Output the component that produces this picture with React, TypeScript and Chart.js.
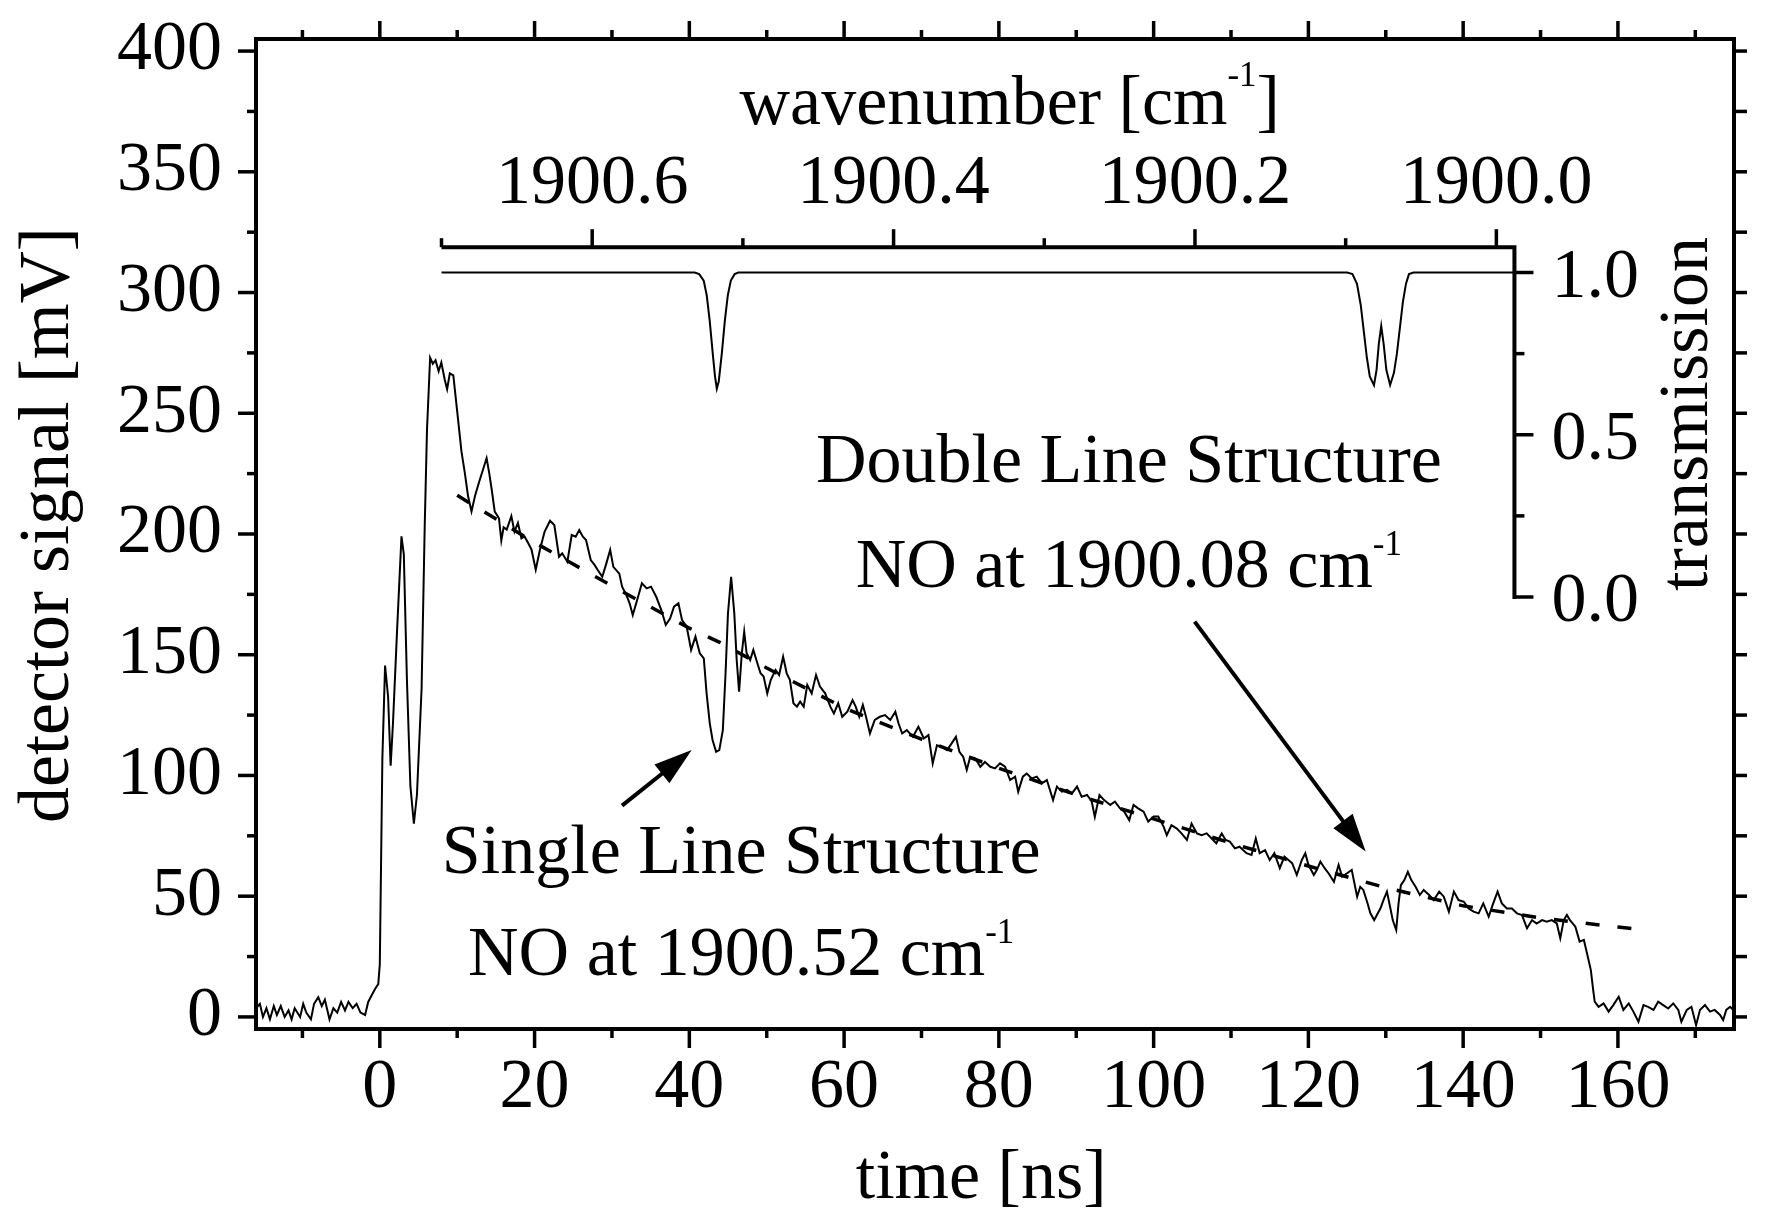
import { useEffect, useRef } from "react";
import { Chart, registerables } from "chart.js";

Chart.register(...registerables);

const FONT = "'Liberation Serif', 'Times New Roman', serif";

// detector signal: [time ns, signal mV]
const signalPoints: [number, number][] = [
  [-16.0, 3.6], [-15.5, 5.4], [-15.1, 0.0], [-14.65, 3.6], [-14.2, -1.0], [-13.7, 4.5], [-13.3, 0.8], [-12.8, 4.5],
  [-12.3, 0.0], [-11.8, 2.7], [-11.4, -1.0], [-11.0, 3.6], [-10.3, 0.0], [-9.9, 5.4], [-9.5, 1.8], [-8.9, -1.0],
  [-8.5, 5.4], [-7.95, 8.2], [-7.5, 4.5], [-7.1, 7.1], [-6.5, -1.0], [-6.0, 3.6], [-5.5, 1.8], [-5.0, 6.2],
  [-4.5, 2.7], [-4.05, 6.2], [-3.5, 3.6], [-3.0, 5.4], [-2.5, 1.8], [-1.9, 0.8], [-1.5, 6.2], [-1.05, 9.0],
  [-0.6, 11.7], [-0.2, 13.6], [0.0, 21.8], [0.33, 106.8], [0.68, 145.5], [1.07, 132.6], [1.4, 104.0], [1.7, 121.5],
  [2.23, 160.0], [2.8, 199.0], [3.1, 191.7], [3.5, 140.0], [3.95, 95.7], [4.4, 80.0], [4.8, 92.0], [5.4, 136.0],
  [5.8, 202.8], [6.1, 243.4], [6.5, 273.0], [6.85, 270.5], [7.2, 272.0], [7.6, 267.4], [7.95, 271.0], [8.4, 263.8],
  [8.7, 260.0], [9.05, 266.5], [9.5, 265.7], [10.0, 250.8], [10.55, 234.2], [11.0, 225.0], [11.4, 215.7], [11.85, 209.3],
  [12.3, 215.7], [12.8, 221.2], [13.35, 226.8], [13.8, 231.4], [14.15, 225.0], [14.5, 217.5], [14.85, 209.3], [15.4, 206.5],
  [15.7, 197.3], [16.0, 202.8], [16.4, 201.8], [17.0, 207.4], [17.4, 201.0], [17.85, 204.6], [18.3, 198.2], [18.7, 199.0],
  [19.15, 196.4], [19.6, 193.6], [20.15, 185.2], [20.7, 193.6], [21.3, 201.0], [22.0, 205.5], [22.55, 203.7], [23.16, 190.6],
  [23.57, 192.0], [24.24, 188.5], [24.8, 199.6], [25.31, 198.9], [25.77, 201.6], [26.24, 198.9], [26.65, 197.5], [27.26, 189.2],
  [27.77, 187.1], [28.18, 185.0], [28.75, 182.3], [29.21, 187.1], [29.77, 193.4], [30.18, 186.4], [30.95, 183.6], [31.31, 178.2],
  [31.87, 174.7], [32.28, 171.3], [32.69, 166.4], [33.31, 173.3], [33.87, 179.6], [34.49, 177.5], [35.05, 178.2], [35.72, 174.0],
  [36.38, 168.5], [36.95, 162.3], [37.51, 165.0], [38.02, 169.9], [38.59, 171.3], [39.05, 164.4], [39.66, 161.6], [40.23, 152.0],
  [40.79, 157.5], [41.35, 150.6], [41.87, 148.5], [42.23, 134.0], [42.64, 121.6], [43.0, 114.7], [43.46, 109.8], [43.87, 110.5],
  [44.33, 118.8], [44.68, 142.3], [44.99, 167.1], [45.4, 182.3], [45.81, 167.1], [46.12, 147.8], [46.43, 134.7], [46.78, 150.6],
  [47.09, 159.5], [47.4, 150.6], [47.86, 147.8], [48.27, 152.0], [48.73, 147.1], [49.2, 142.3], [49.6, 141.0], [50.07, 134.0],
  [50.53, 139.6], [51.14, 143.7], [51.6, 141.6], [52.12, 149.2], [52.58, 142.3], [52.99, 139.6], [53.45, 129.9], [53.91, 128.5],
  [54.32, 130.6], [54.78, 128.5], [55.24, 137.5], [55.81, 134.0], [56.37, 141.6], [56.88, 136.8], [57.55, 134.0], [58.22, 128.5],
  [58.68, 125.7], [59.24, 129.9], [59.76, 124.3], [60.42, 126.4], [61.09, 131.2], [61.5, 128.5], [61.96, 124.3], [62.42, 129.2],
  [62.83, 124.3], [63.34, 117.4], [63.96, 123.0], [64.62, 124.3], [65.29, 125.0], [65.96, 123.0], [66.62, 126.4], [67.03, 121.6],
  [67.5, 117.4], [68.1, 118.8], [68.9, 116.0], [69.6, 120.2], [70.3, 115.3], [70.9, 116.7], [71.45, 105.0], [72.0, 112.5],
  [72.6, 111.9], [73.3, 110.5], [73.9, 113.3], [74.45, 116.0], [74.9, 109.8], [75.4, 107.7], [75.85, 102.3], [76.3, 107.7],
  [76.95, 107.0], [77.6, 103.6], [78.2, 105.6], [78.9, 103.6], [79.5, 102.9], [80.15, 105.0], [80.8, 103.6], [81.45, 98.1],
  [82.1, 99.5], [82.5, 93.3], [83.1, 99.5], [83.6, 100.8], [84.25, 98.8], [84.9, 99.5], [85.55, 96.7], [86.2, 98.1],
  [87.0, 89.8], [87.5, 95.4], [88.15, 93.3], [88.8, 94.0], [89.45, 92.6], [90.1, 95.4], [90.7, 91.2], [91.4, 91.9],
  [92.0, 89.2], [92.4, 82.9], [93.0, 91.9], [93.6, 89.8], [94.4, 87.8], [95.0, 89.2], [95.65, 86.4], [96.2, 85.0],
  [96.85, 81.5], [97.4, 87.8], [98.0, 86.4], [98.7, 85.0], [99.3, 80.9], [100.0, 83.0], [100.6, 83.0], [101.3, 78.7],
  [101.7, 75.3], [102.3, 79.4], [103.0, 78.0], [103.6, 76.0], [104.3, 73.3], [104.9, 80.1], [105.6, 76.0], [106.2, 75.3],
  [106.85, 76.0], [107.5, 73.9], [108.1, 71.9], [108.8, 76.0], [109.3, 73.3], [109.85, 72.6], [110.5, 69.8], [111.1, 70.5],
  [112.0, 67.8], [112.65, 67.1], [113.2, 73.9], [113.7, 67.8], [114.4, 69.1], [115.0, 65.0], [115.6, 67.8], [116.3, 61.6],
  [116.9, 66.4], [117.9, 63.7], [118.5, 58.8], [119.15, 65.0], [119.6, 67.8], [120.0, 63.0], [120.7, 58.8], [121.1, 60.9],
  [121.55, 64.3], [122.1, 61.6], [122.6, 59.5], [123.3, 56.0], [123.9, 63.0], [124.35, 58.1], [125.0, 59.5], [125.6, 60.9],
  [126.3, 49.8], [126.7, 53.9], [127.1, 52.6], [127.65, 47.0], [128.0, 43.0], [128.5, 40.1], [128.85, 42.2], [129.3, 44.9],
  [129.7, 48.4], [130.15, 51.9], [130.6, 44.9], [130.9, 40.1], [131.35, 36.0], [131.65, 47.0], [131.95, 54.6], [132.4, 56.7],
  [132.85, 60.1], [133.3, 56.7], [133.85, 53.9], [134.4, 50.5], [134.9, 52.6], [135.6, 50.5], [136.2, 48.4], [136.9, 51.9],
  [137.5, 49.8], [138.15, 43.6], [138.8, 51.9], [139.4, 48.4], [140.1, 47.7], [140.7, 44.9], [141.35, 43.6], [142.0, 42.9],
  [142.6, 47.0], [143.3, 41.5], [143.8, 46.3], [144.45, 51.9], [145.0, 47.0], [145.65, 44.9], [146.3, 44.9], [146.95, 42.9],
  [147.6, 42.2], [148.25, 36.7], [148.9, 40.1], [149.5, 38.7], [150.2, 40.1], [150.8, 39.4], [151.45, 40.1], [152.1, 38.7],
  [152.55, 32.6], [153.0, 40.1], [153.4, 42.2], [153.8, 40.1], [154.5, 37.4], [155.05, 31.2], [155.6, 31.9], [156.0, 26.4],
  [156.5, 19.4], [156.8, 11.2], [157.0, 6.3], [157.5, 4.2], [158.15, 5.6], [158.8, 2.2], [159.4, 4.9], [160.1, 8.4],
  [160.7, 2.9], [161.4, 5.6], [162.0, 2.2], [162.65, -2.0], [163.3, 4.9], [163.9, 4.2], [164.6, 2.9], [165.2, 6.3],
  [165.85, 4.9], [166.5, 3.5], [167.15, 5.6], [167.8, 2.9], [168.2, -2.0], [168.9, 2.9], [169.5, 4.2], [170.1, -3.4],
  [170.6, 2.9], [171.25, 4.9], [171.9, 2.2], [172.5, 2.9], [173.2, 0.8], [173.6, -1.3], [174.0, 2.9], [174.5, 4.2],
  [175.0, 2.5],
];

// dashed decay fit: [time ns, signal mV]
const fitPoints: [number, number][] = [
  [10, 216], [20, 196.5], [30, 178.5], [40, 161], [44, 155], [50, 144.5], [60, 128], [70, 115], [80, 103],
  [90, 92], [100, 82], [110, 72], [120, 62.5], [130, 53.5], [140, 46], [150, 41], [160, 37.2], [162, 36.5],
];

// inset spectrum: [wavenumber cm-1, transmission]
const transmissionPoints: [number, number][] = [
  [1900.7, 1.0], [1900.532, 1.0], [1900.529, 0.995], [1900.526, 0.975], [1900.524, 0.93], [1900.522, 0.85],
  [1900.52, 0.75], [1900.5185, 0.68], [1900.5173, 0.642], [1900.516, 0.665], [1900.514, 0.75], [1900.512, 0.85],
  [1900.51, 0.93], [1900.508, 0.975], [1900.5055, 0.995], [1900.503, 1.0],
  [1900.099, 1.0], [1900.0955, 0.995], [1900.0925, 0.965], [1900.09, 0.9], [1900.088, 0.82], [1900.086, 0.74],
  [1900.084, 0.68], [1900.0812, 0.653], [1900.0795, 0.7], [1900.078, 0.78], [1900.0764, 0.835], [1900.0748, 0.78],
  [1900.073, 0.7], [1900.0705, 0.653], [1900.068, 0.69], [1900.066, 0.75], [1900.064, 0.83], [1900.062, 0.91],
  [1900.06, 0.965], [1900.058, 0.995], [1900.055, 1.0], [1899.988, 1.0],
];

const timeTicks = [0, 20, 40, 60, 80, 100, 120, 140, 160];
const timeMinorTicks = [-10, 10, 30, 50, 70, 90, 110, 130, 150, 170];
const signalTicks = [0, 50, 100, 150, 200, 250, 300, 350, 400];
const signalMinorTicks = [25, 75, 125, 175, 225, 275, 325, 375];
const wavenumberTicks = [1900.6, 1900.4, 1900.2, 1900.0];
const wavenumberLabels = ["1900.6", "1900.4", "1900.2", "1900.0"];
const wavenumberMinorTicks = [1900.7, 1900.5, 1900.3, 1900.1];
const transmissionTicks = [0, 0.5, 1.0];
const transmissionLabels = ["0.0", "0.5", "1.0"];
const transmissionMinorTicks = [0.25, 0.75];

// inset frame extent
const insetWavenumbers = [1900.7, 1899.988];
const insetTop = 1.078;

// text notes, anchored in time/signal units
const notes = [
  { t: 46.7, mv: 59.8, parts: [{ text: "Single Line Structure", sup: false }] },
  { t: 46.7, mv: 17.4, parts: [{ text: "NO at 1900.52 cm", sup: false }, { text: "-1", sup: true }] },
  { t: 96.8, mv: 221.5, parts: [{ text: "Double Line Structure", sup: false }] },
  { t: 96.8, mv: 178.0, parts: [{ text: "NO at 1900.08 cm", sup: false }, { text: "-1", sup: true }] },
];

const arrows = [
  { from: [31.3, 87.5], to: [40.3, 110.5] },
  { from: [105.3, 163.7], to: [127.4, 68.5] },
];

const drawRich = (ctx: CanvasRenderingContext2D, parts: { text: string; sup: boolean }[], cx: number, base: number, rise: number) => {
  const widths = parts.map((p) => {
    ctx.font = `${p.sup ? 35 : 70}px ${FONT}`;
    return ctx.measureText(p.text).width;
  });
  let x = cx - widths.reduce((a, b) => a + b, 0) / 2;
  ctx.textAlign = "left";
  ctx.textBaseline = "alphabetic";
  parts.forEach((p, i) => {
    ctx.font = `${p.sup ? 35 : 70}px ${FONT}`;
    ctx.fillText(p.text, x, p.sup ? base - rise : base);
    x += widths[i];
  });
};

const framePlugin = {
  id: "frame",
  afterDraw(chart: any) {
    const { ctx, chartArea: a, scales } = chart;
    const { x, y, x2, y2 } = scales;
    const seg = (x0: number, y0: number, x1: number, y1: number) => {
      ctx.beginPath();
      ctx.moveTo(x0, y0);
      ctx.lineTo(x1, y1);
      ctx.stroke();
    };
    ctx.save();
    ctx.strokeStyle = "#000";
    ctx.fillStyle = "#000";
    ctx.lineWidth = 4;
    ctx.strokeRect(a.left, a.top, a.right - a.left, a.bottom - a.top);

    ctx.lineWidth = 3.5;
    timeTicks.forEach((v) => {
      const px = x.getPixelForValue(v);
      seg(px, a.bottom, px, a.bottom + 19);
      seg(px, a.top, px, a.top - 18);
    });
    timeMinorTicks.forEach((v) => {
      const px = x.getPixelForValue(v);
      seg(px, a.bottom, px, a.bottom + 9);
      seg(px, a.top, px, a.top - 9);
    });
    signalTicks.forEach((v) => {
      const py = y.getPixelForValue(v);
      seg(a.left, py, a.left - 18, py);
      seg(a.right, py, a.right + 13, py);
    });
    signalMinorTicks.forEach((v) => {
      const py = y.getPixelForValue(v);
      seg(a.left, py, a.left - 9, py);
      seg(a.right, py, a.right + 13, py);
    });

    // inset axes
    const ix0 = x2.getPixelForValue(insetWavenumbers[0]);
    const ix1 = x2.getPixelForValue(insetWavenumbers[1]);
    const iyTop = y2.getPixelForValue(insetTop);
    const iyBot = y2.getPixelForValue(0);
    ctx.lineWidth = 4;
    ctx.beginPath();
    ctx.moveTo(ix0, iyTop);
    ctx.lineTo(ix1, iyTop);
    ctx.lineTo(ix1, iyBot + 2);
    ctx.stroke();
    ctx.lineWidth = 3.5;
    wavenumberTicks.forEach((v) => {
      const px = x2.getPixelForValue(v);
      seg(px, iyTop, px, iyTop - 18);
    });
    wavenumberMinorTicks.forEach((v) => {
      const px = x2.getPixelForValue(v);
      seg(px, iyTop, px, iyTop - 9);
    });
    transmissionTicks.forEach((v) => {
      const py = y2.getPixelForValue(v);
      seg(ix1, py, ix1 + 19, py);
    });
    transmissionMinorTicks.forEach((v) => {
      const py = y2.getPixelForValue(v);
      seg(ix1, py, ix1 + 10, py);
    });

    ctx.font = `70px ${FONT}`;
    ctx.textAlign = "center";
    ctx.textBaseline = "alphabetic";
    wavenumberTicks.forEach((v, i) => {
      ctx.fillText(wavenumberLabels[i], x2.getPixelForValue(v), iyTop - 44);
    });
    ctx.textAlign = "left";
    transmissionTicks.forEach((v, i) => {
      ctx.fillText(transmissionLabels[i], ix1 + 37, y2.getPixelForValue(v) + 24);
    });

    // axis titles
    drawRich(
      ctx,
      [
        { text: "wavenumber [cm", sup: false },
        { text: "-1", sup: true },
        { text: "]", sup: false },
      ],
      x.getPixelForValue(81.4),
      y.getPixelForValue(369.6),
      38
    );
    ctx.font = `70px ${FONT}`;
    ctx.textAlign = "center";
    ctx.fillText("time [ns]", x.getPixelForValue(77.7), y.getPixelForValue(-75));

    const rotated = (text: string, px: number, py: number, size: number) => {
      ctx.save();
      ctx.translate(px, py);
      ctx.rotate(-Math.PI / 2);
      ctx.font = `${size}px ${FONT}`;
      ctx.textAlign = "center";
      ctx.textBaseline = "alphabetic";
      ctx.fillText(text, 0, 0);
      ctx.restore();
    };
    rotated("detector signal [mV]", x.getPixelForValue(-40.3), y.getPixelForValue(203.7), 72);
    rotated("transmission", x.getPixelForValue(171.5), y.getPixelForValue(249.7), 70);

    notes.forEach((n) => drawRich(ctx, n.parts, x.getPixelForValue(n.t), y.getPixelForValue(n.mv), 32));

    arrows.forEach((ar) => {
      const x0 = x.getPixelForValue(ar.from[0]);
      const y0 = y.getPixelForValue(ar.from[1]);
      const x1 = x.getPixelForValue(ar.to[0]);
      const y1 = y.getPixelForValue(ar.to[1]);
      const ang = Math.atan2(y1 - y0, x1 - x0);
      const c = Math.cos(ang);
      const s = Math.sin(ang);
      const bx = x1 - 38 * c;
      const by = y1 - 38 * s;
      ctx.lineWidth = 4;
      seg(x0, y0, bx + 2 * c, by + 2 * s);
      ctx.beginPath();
      ctx.moveTo(x1, y1);
      ctx.lineTo(bx + 12 * s, by - 12 * c);
      ctx.lineTo(bx - 12 * s, by + 12 * c);
      ctx.closePath();
      ctx.fill();
    });
    ctx.restore();
  },
};

const App = () => {
  const chartRef = useRef<HTMLCanvasElement>(null);

  useEffect(() => {
    document.body.style.margin = "0";
    if (!chartRef.current) return;
    const chart = new Chart(chartRef.current, {
      type: "scatter",
      data: {
        datasets: [
          {
            label: "detector signal",
            data: signalPoints.map(([t, v]) => ({ x: t, y: v })),
            showLine: true,
            borderColor: "#000",
            borderWidth: 2,
            pointRadius: 0,
            xAxisID: "x",
            yAxisID: "y",
          },
          {
            label: "fit",
            data: fitPoints.map(([t, v]) => ({ x: t, y: v })),
            showLine: true,
            borderColor: "#000",
            borderWidth: 3.5,
            borderDash: [14, 18],
            pointRadius: 0,
            xAxisID: "x",
            yAxisID: "y",
          },
          {
            label: "transmission",
            data: transmissionPoints.map(([w, tr]) => ({ x: w, y: tr })),
            showLine: true,
            borderColor: "#000",
            borderWidth: 2,
            pointRadius: 0,
            xAxisID: "x2",
            yAxisID: "y2",
          },
        ],
      },
      options: {
        animation: false,
        responsive: true,
        maintainAspectRatio: false,
        events: [],
        layout: { padding: { top: 39, right: 36, left: 0, bottom: 0 } },
        plugins: {
          legend: { display: false },
          tooltip: { enabled: false },
        },
        scales: {
          x: {
            type: "linear",
            position: "bottom",
            min: -16,
            max: 175,
            grid: { display: false, drawTicks: false },
            border: { display: false },
            ticks: {
              color: "#000",
              font: { family: FONT, size: 70 },
              padding: 18,
              maxRotation: 0,
              autoSkip: false,
            },
            afterBuildTicks: (scale: any) => {
              scale.ticks = timeTicks.map((value) => ({ value }));
            },
            afterFit: (scale: any) => {
              scale.height = 193;
              scale.paddingLeft = 0;
              scale.paddingRight = 0;
            },
          },
          y: {
            type: "linear",
            position: "left",
            min: -5,
            max: 405,
            grid: { display: false, drawTicks: false },
            border: { display: false },
            ticks: {
              color: "#000",
              font: { family: FONT, size: 70 },
              padding: 34,
              autoSkip: false,
            },
            afterBuildTicks: (scale: any) => {
              scale.ticks = signalTicks.map((value) => ({ value }));
            },
            afterFit: (scale: any) => {
              scale.width = 256;
              scale.paddingTop = 0;
              scale.paddingBottom = 0;
            },
          },
          x2: {
            type: "linear",
            axis: "x",
            display: false,
            reverse: true,
            min: 1899.8423,
            max: 1900.8231,
          },
          y2: {
            type: "linear",
            axis: "y",
            display: false,
            min: -1.3313,
            max: 1.7196,
          },
        },
      },
      plugins: [framePlugin],
    });

    return () => chart.destroy();
  }, []);

  return (
    <div style={{ width: 1770, height: 1222, position: "relative", background: "#fff" }}>
      <canvas ref={chartRef}></canvas>
    </div>
  );
};

export default App;
